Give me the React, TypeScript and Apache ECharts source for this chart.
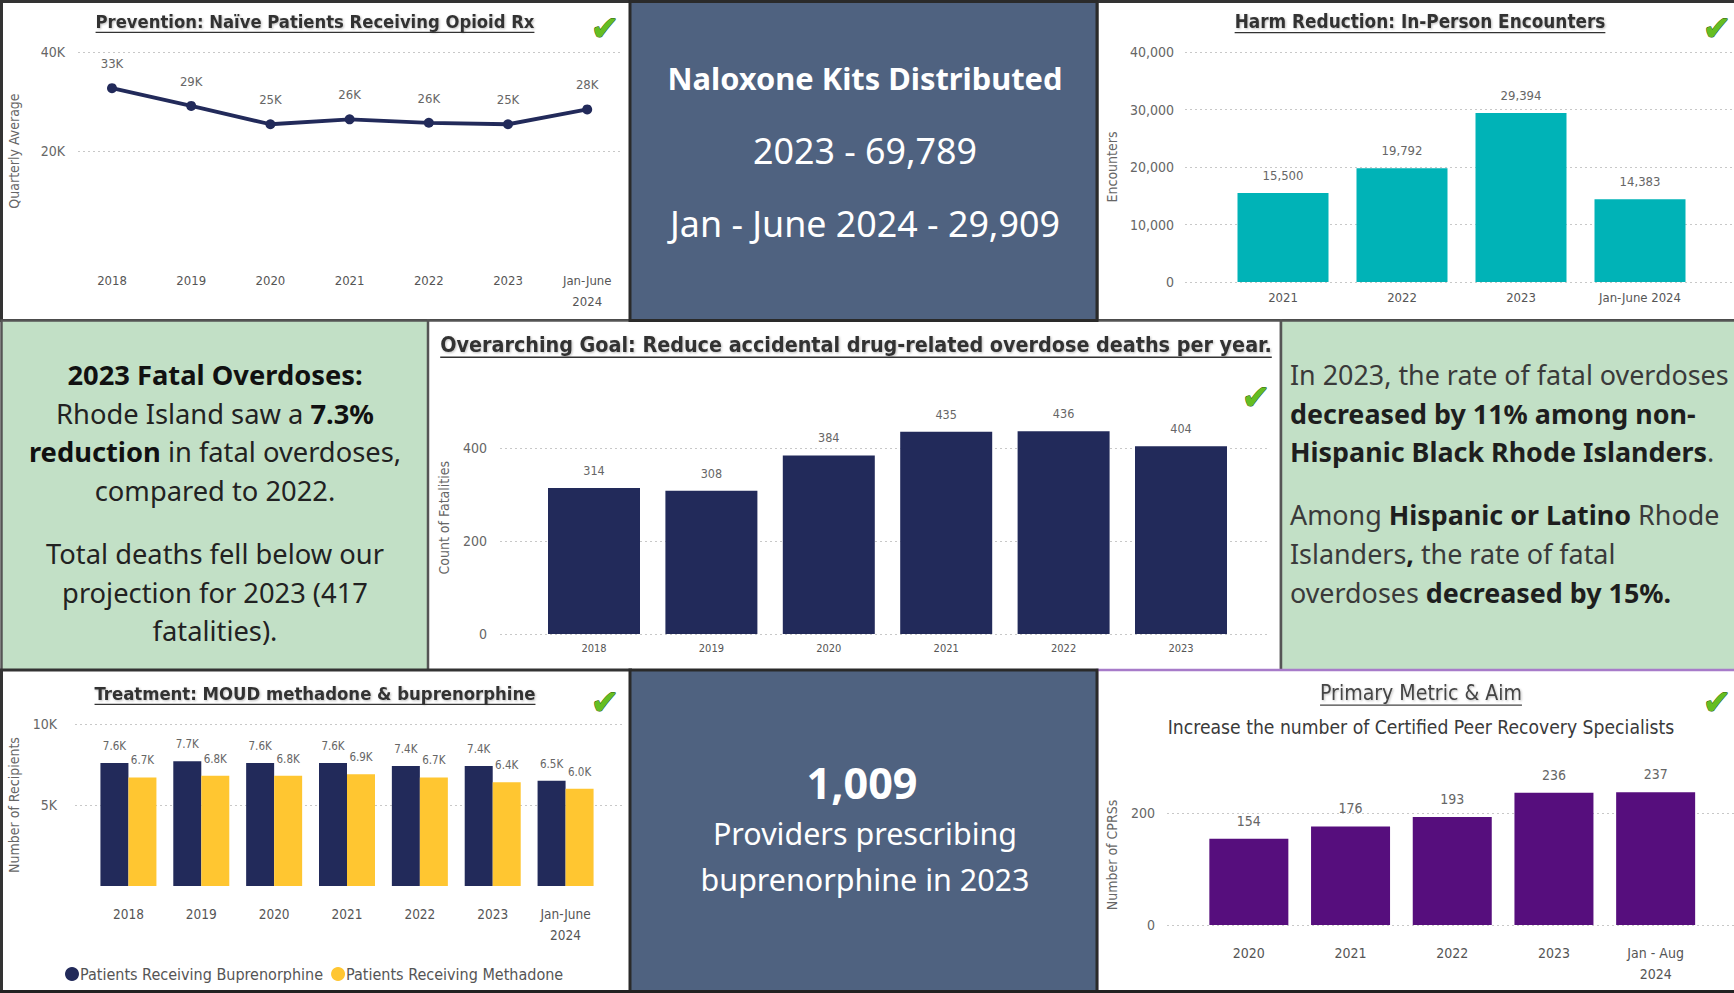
import React, { useEffect, useRef } from 'react';
import * as echarts from 'echarts';

// ---------- data ----------
const rxYears = ['2018', '2019', '2020', '2021', '2022', '2023', 'Jan-June\n2024'];
const rxValues = [32700, 29100, 25400, 26400, 25700, 25400, 28400];

const harmYears = ['2021', '2022', '2023', 'Jan-June 2024'];
const harmValues = [15500, 19792, 29394, 14383];

const deathYears = ['2018', '2019', '2020', '2021', '2022', '2023'];
const deathValues = [314, 308, 384, 435, 436, 404];

const moudYears = ['2018', '2019', '2020', '2021', '2022', '2023', 'Jan-June\n2024'];
const buprenorphine = [7600, 7700, 7600, 7600, 7400, 7400, 6500];
const methadone = [6700, 6800, 6800, 6900, 6700, 6400, 6000];
const moudSeriesNames = ['Patients Receiving Buprenorphine', 'Patients Receiving Methadone'];

const cprsYears = ['2020', '2021', '2022', '2023', 'Jan - Aug\n2024'];
const cprsValues = [154, 176, 193, 236, 237];

const naloxoneLines = ['Naloxone Kits Distributed', '2023 - 69,789', 'Jan - June 2024 - 29,909'];
const providerLines = ['1,009', 'Providers prescribing', 'buprenorphine in 2023'];

const leftTextLines = [
  '{b|2023 Fatal Overdoses:}',
  'Rhode Island saw a {b|7.3%}',
  '{b|reduction} in fatal overdoses,',
  'compared to 2022.',
  'Total deaths fell below our',
  'projection for 2023 (417',
  'fatalities).',
];
const rightTextLines = [
  'In 2023, the rate of fatal overdoses',
  '{b|decreased by 11% among non-}',
  '{b|Hispanic Black Rhode Islanders}.',
  'Among {b|Hispanic or Latino} Rhode',
  'Islanders{b|,} the rate of fatal',
  'overdoses {b|decreased by 15%.}',
];

// ---------- styles ----------
const COND = '"DejaVu Sans Condensed", "Liberation Sans Narrow", "Roboto Condensed", Roboto, sans-serif';
const SANS = '"Noto Sans", "Open Sans", sans-serif';
const NAVY = '#222A5A';
const TEAL = '#00B3B7';
const YELLOW = '#FFC631';
const PURPLE = '#560E7D';
const DARKPANEL = '#4F6280';
const GREEN = '#C2E0C6';
const LABEL = '#666';

let ctx: CanvasRenderingContext2D | null = null;
function measure(text: string, font: string) {
  if (!ctx) ctx = document.createElement('canvas').getContext('2d');
  ctx!.font = font;
  return ctx!.measureText(text).width;
}
function fit(text: string, weight: string, family: string, target: number) {
  const w = measure(text, `${weight} 100px ${family}`);
  return (100 * target) / w;
}

function title(text: string, cx: number, cy: number, targetW: number, weight = 'bold', color = '#333') {
  const size = fit(text, weight, COND, targetW);
  const w = measure(text, `${weight} ${size}px ${COND}`);
  return [
    {
      type: 'text', x: cx, y: cy, z: 50,
      style: {
        text, fill: color, fontSize: size, fontFamily: COND, fontWeight: weight,
        align: 'center', verticalAlign: 'middle',
        textShadowColor: 'rgba(0,0,0,0.25)', textShadowBlur: 2, textShadowOffsetX: 1, textShadowOffsetY: 1,
      },
    },
    {
      type: 'line', z: 50,
      shape: { x1: cx - w / 2, y1: cy + size * 0.62, x2: cx + w / 2, y2: cy + size * 0.62 },
      style: { stroke: color, lineWidth: 1.3 },
    },
  ];
}

function check(x: number, y: number) {
  return {
    type: 'text', x, y, z: 60,
    style: {
      text: '✔', fill: '#64BE22', stroke: '#2F5F0F', lineWidth: 1,
      fontSize: 34, fontFamily: '"DejaVu Sans", sans-serif', align: 'center', verticalAlign: 'middle',
    },
  };
}

function panel(x: number, y: number, w: number, h: number, fill: string, stroke: string, lw = 3) {
  return { type: 'rect', z: -10, shape: { x, y, width: w, height: h }, style: { fill, stroke, lineWidth: lw } };
}

function lineText(text: string, x: number, y: number, size: number, align: string, color: string, boldColor: string, weight = 'normal') {
  return {
    type: 'text', x, y, z: 50,
    style: {
      text, fill: color, fontSize: size, fontFamily: SANS, fontWeight: weight,
      align, verticalAlign: 'middle',
      rich: { b: { fill: boldColor, fontSize: size, fontFamily: SANS, fontWeight: 'bold' } },
    },
  };
}

function backY(gridIndex: number, max: number, interval: number, fmt: (v: number) => string, name: string, nameGap: number, margin: number, showMin: boolean, showMaxL: boolean) {
  return {
    type: 'value', gridIndex, min: 0, max, interval,
    name, nameLocation: 'middle', nameGap, nameRotate: 90,
    nameTextStyle: { color: '#666', fontSize: 14, fontFamily: COND },
    axisLine: { show: false }, axisTick: { show: false },
    axisLabel: { color: LABEL, fontSize: 14, fontFamily: COND, margin, formatter: fmt, showMinLabel: showMin, showMaxLabel: showMaxL },
    splitLine: { show: true, showMinLine: showMin, showMaxLine: showMaxL, lineStyle: { color: '#c8c8c8', type: [2, 3], width: 1.2 } },
  };
}
function hiddenY(gridIndex: number, max: number) {
  return { type: 'value', gridIndex, min: 0, max, show: false, splitLine: { show: false } };
}
function hiddenX(gridIndex: number) {
  return { type: 'value', gridIndex, min: 0, max: 1, show: false, splitLine: { show: false } };
}
function catX(gridIndex: number, data: string[], fontSize: number, margin: number, lineHeight = 21) {
  return {
    type: 'category', gridIndex, data,
    axisLine: { show: false }, axisTick: { show: false },
    axisLabel: { color: '#555', fontSize, fontFamily: COND, margin, lineHeight, interval: 0 },
  };
}

function buildOption() {
  const k = (v: number) => (v === 0 ? '0' : Math.round(v / 1000) + 'K');
  const comma = (v: number) => v.toLocaleString('en-US');
  const plain = (v: number) => String(v);

  const grids = [
    { left: 78, top: 52, width: 544, height: 198 },      // 0 back p1
    { left: 72.4, top: 52, width: 554.4, height: 198 },  // 1 line p1
    { left: 1185, top: 52, width: 549, height: 230 },    // 2 back p3
    { left: 1223.5, top: 52, width: 476, height: 230 },  // 3 bars p3
    { left: 500, top: 401.5, width: 770, height: 232.5 },// 4 back p5
    { left: 535.3, top: 401.5, width: 704.4, height: 232.5 }, // 5 bars p5
    { left: 75, top: 724, width: 550, height: 162 },     // 6 back p7
    { left: 92, top: 724, width: 510, height: 162 },     // 7 bars p7
    { left: 1167, top: 785, width: 567, height: 140 },   // 8 back p9
    { left: 1198, top: 785, width: 508.5, height: 140 }, // 9 bars p9
  ];

  const xAxis = [
    hiddenX(0),
    catX(1, rxYears, 13, 20),
    hiddenX(2),
    catX(3, harmYears, 13, 5),
    hiddenX(4),
    catX(5, deathYears, 11, 4),
    hiddenX(6),
    catX(7, moudYears, 13.5, 17),
    hiddenX(8),
    catX(9, cprsYears, 14, 17),
  ];
  const yAxis = [
    backY(0, 40000, 20000, k, 'Quarterly Average', 57, 13, false, true),
    hiddenY(1, 40000),
    backY(2, 40000, 10000, comma, 'Encounters', 66, 11, true, true),
    hiddenY(3, 40000),
    backY(4, 500, 200, plain, 'Count of Fatalities', 49, 13, true, false),
    hiddenY(5, 500),
    backY(6, 10000, 5000, k, 'Number of Recipients', 54, 18, false, true),
    hiddenY(7, 10000),
    backY(8, 250, 200, plain, 'Number of CPRSs', 48, 12, true, false),
    hiddenY(9, 250),
  ];

  const dataLabel = (fmt: (v: number) => string, size: number, distance = 5) => ({
    show: true, position: 'top', distance, color: LABEL, fontSize: size, fontFamily: COND,
    formatter: (p: any) => fmt(p.value),
  });

  const series = [
    {
      type: 'line', name: 'Naive Patients', xAxisIndex: 1, yAxisIndex: 1, data: rxValues,
      symbol: 'circle', symbolSize: 10, lineStyle: { color: NAVY, width: 3.8 }, itemStyle: { color: NAVY },
      label: dataLabel(k, 13, 13),
    },
    {
      type: 'bar', name: 'Encounters', xAxisIndex: 3, yAxisIndex: 3, data: harmValues,
      barWidth: 91, itemStyle: { color: TEAL }, label: dataLabel(comma, 13, 11),
    },
    {
      type: 'bar', name: 'Fatalities', xAxisIndex: 5, yAxisIndex: 5, data: deathValues,
      barWidth: 92, itemStyle: { color: NAVY }, label: dataLabel(plain, 12.5, 11),
    },
    {
      type: 'bar', name: moudSeriesNames[0], xAxisIndex: 7, yAxisIndex: 7, data: buprenorphine,
      barWidth: 28, barGap: '0%', itemStyle: { color: NAVY },
      label: dataLabel((v) => (v / 1000).toFixed(1) + 'K', 11.5, 11),
    },
    {
      type: 'bar', name: moudSeriesNames[1], xAxisIndex: 7, yAxisIndex: 7, data: methadone,
      barWidth: 28, barGap: '0%', itemStyle: { color: YELLOW },
      label: dataLabel((v) => (v / 1000).toFixed(1) + 'K', 11.5, 11),
    },
    {
      type: 'bar', name: 'CPRS', xAxisIndex: 9, yAxisIndex: 9, data: cprsValues,
      barWidth: 79, itemStyle: { color: PURPLE }, label: dataLabel(plain, 14, 11),
    },
  ];

  // text sizes
  const leftSize = fit('Total deaths fell below our', 'normal', SANS, 338);
  const rightSize = fit('Islanders, the rate of fatal', 'normal', SANS, 325);
  const nalTitle = fit(naloxoneLines[0], 'bold', SANS, 395);
  const nalBody = fit(naloxoneLines[2], 'normal', SANS, 390);
  const provBig = fit(providerLines[0], 'bold', SANS, 111);
  const provBody = fit(providerLines[2], 'normal', SANS, 329);

  const leftYs = [374, 413, 451, 490, 553, 592, 630];
  const rightYs = [374, 413, 451, 514, 553, 592];

  const graphic: any[] = [
    { type: 'rect', z: -20, shape: { x: 0, y: 0, width: 1734, height: 993 }, style: { fill: '#ffffff' } },
    panel(1.5, 1.5, 629, 319, '#ffffff', '#333'),
    panel(1097, 1.5, 640, 319, '#ffffff', '#333'),
    panel(1.5, 320.5, 427, 350, GREEN, '#555', 2.5),
    panel(428, 320.5, 853, 350, '#ffffff', '#555', 2.5),
    panel(1281, 320.5, 456, 350, GREEN, '#555', 2.5),
    panel(1.5, 670, 629, 322, '#ffffff', '#333'),
    panel(1097, 670, 640, 322, '#ffffff', '#A77BC9', 2.5),
    panel(630, 1.5, 467, 319, DARKPANEL, '#2a2a2a', 3),
    panel(630, 670, 467, 322, DARKPANEL, '#2a2a2a', 3),
    { type: 'line', z: -5, shape: { x1: 0, y1: 991.5, x2: 1734, y2: 991.5 }, style: { stroke: '#222', lineWidth: 3 } },

    ...title('Prevention: Naïve Patients Receiving Opioid Rx', 315, 21, 439),
    ...title('Harm Reduction: In-Person Encounters', 1420, 21, 371),
    ...title('Overarching Goal: Reduce accidental drug-related overdose deaths per year.', 856, 344, 832),
    ...title('Treatment: MOUD methadone & buprenorphine', 315, 693, 441),
    ...title('Primary Metric & Aim', 1421, 692, 202, 'normal', '#444'),
    {
      type: 'text', x: 1421, y: 727, z: 50,
      style: {
        text: 'Increase the number of Certified Peer Recovery Specialists', fill: '#3a3a3a',
        fontSize: fit('Increase the number of Certified Peer Recovery Specialists', 'normal', COND, 507),
        fontFamily: COND, align: 'center', verticalAlign: 'middle',
      },
    },

    check(605, 28), check(1717, 28), check(1256, 397), check(605, 702), check(1717, 702),

    lineText(naloxoneLines[0], 865, 78, nalTitle, 'center', '#fff', '#fff', 'bold'),
    lineText(naloxoneLines[1], 865, 150, nalBody, 'center', '#fff', '#fff'),
    lineText(naloxoneLines[2], 865, 223, nalBody, 'center', '#fff', '#fff'),
    lineText(providerLines[0], 862, 782, provBig, 'center', '#fff', '#fff', 'bold'),
    lineText(providerLines[1], 865, 833, provBody, 'center', '#fff', '#fff'),
    lineText(providerLines[2], 865, 879, provBody, 'center', '#fff', '#fff'),

    ...leftTextLines.map((t, i) => lineText(t, 215, leftYs[i], leftSize, 'center', '#222', '#111')),
    ...rightTextLines.map((t, i) => lineText(t, 1290, rightYs[i], rightSize, 'left', '#3a3a3a', '#1e1e1e')),
  ];

  return {
    animation: false,
    grid: grids,
    xAxis,
    yAxis,
    series,
    legend: {
      data: moudSeriesNames, left: 60, top: 961, icon: 'circle', itemWidth: 14, itemHeight: 14, itemGap: 8,
      textStyle: { color: '#555', fontSize: 16, fontFamily: COND, padding: [0, 0, 0, -4] },
    },
    graphic,
  };
}

export default function App() {
  const ref = useRef<HTMLDivElement>(null);
  useEffect(() => {
    document.body.style.margin = '0';
    const chart = echarts.init(ref.current!, null, { renderer: 'svg' });
    chart.setOption(buildOption() as any);
    return () => chart.dispose();
  }, []);
  return <div ref={ref} style={{ width: 1734, height: 993 }} />;
}
